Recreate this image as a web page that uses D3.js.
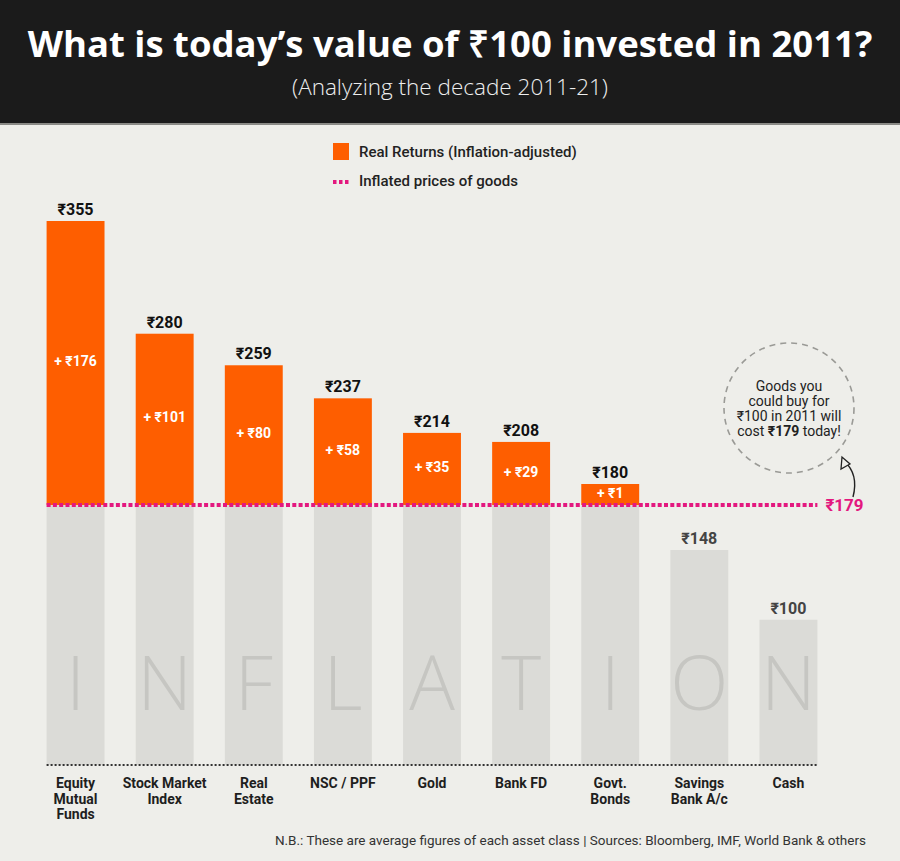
<!DOCTYPE html>
<html>
<head>
<meta charset="utf-8">
<script src="https://cdn.jsdelivr.net/npm/d3@7"></script>
<style>
  body { margin: 0; background: #eeeeea; }
  svg { display: block; font-family: Roboto, "Noto Sans", sans-serif; }
</style>
</head>
<body>
<script>
// chart values
var categories = ["Equity\nMutual\nFunds", "Stock Market\nIndex", "Real\nEstate", "NSC / PPF",
                  "Gold", "Bank FD", "Govt.\nBonds", "Savings\nBank A/c", "Cash"];
var values = [355, 280, 259, 237, 214, 208, 180, 148, 100];
var inflated = 179;
var bigLetters = ["I", "N", "F", "L", "A", "T", "I", "O", "N"];

var width = 900, height = 861;
var orange = "#fe5e00", pink = "#e3187f", grey = "#dbdbd7";

var svg = d3.select("body").append("svg")
  .attr("width", width)
  .attr("height", height);

// paper background
svg.append("rect").attr("width", width).attr("height", height).attr("fill", "#eeeeea");

// header band
svg.append("rect").attr("width", width).attr("height", 123).attr("fill", "#1b1b1b");
svg.append("rect").attr("y", 123).attr("width", width).attr("height", 2).attr("fill", "#8a8a86");

svg.append("text")
  .attr("x", width / 2).attr("y", 57)
  .attr("text-anchor", "middle")
  .style("font-family", "'Open Sans', sans-serif")
  .style("font-weight", 700).style("font-size", "36.5px")
  .attr("fill", "#fff")
  .text("What is today\u2019s value of \u20b9100 invested in 2011?");

svg.append("text")
  .attr("x", width / 2).attr("y", 95)
  .attr("text-anchor", "middle")
  .style("font-family", "'Open Sans', sans-serif")
  .style("font-weight", 300).style("font-size", "22.5px")
  .attr("fill", "#eee")
  .text("(Analyzing the decade 2011-21)");

// legend
var legend = svg.append("g");
legend.append("rect").attr("x", 333).attr("y", 143).attr("width", 16).attr("height", 17).attr("fill", orange);
legend.append("text").attr("x", 359).attr("y", 157)
  .style("font-size", "15px").style("font-weight", 500).attr("fill", "#222")
  .text("Real Returns (Inflation-adjusted)");
legend.append("line").attr("x1", 333).attr("x2", 350).attr("y1", 182).attr("y2", 182)
  .attr("stroke", pink).attr("stroke-width", 4).attr("stroke-dasharray", "3.5,2.5");
legend.append("text").attr("x", 359).attr("y", 186)
  .style("font-size", "15px").style("font-weight", 500).attr("fill", "#222")
  .text("Inflated prices of goods");

// scales: the +1 step just above the inflation line is stretched, as in the original
var x = d3.scaleBand()
  .domain(categories)
  .range([31, 833])
  .paddingInner(0.35)
  .paddingOuter(0.175);

var y = d3.scaleLinear()
  .domain([0, inflated, inflated + 1, d3.max(values)])
  .range([765, 505, 484, 221]);

var data = categories.map(function(c, i) {
  return { cat: c, value: values[i], letter: bigLetters[i] };
});

var bars = svg.append("g").selectAll("g")
  .data(data)
  .enter().append("g");

// grey part (up to the inflation line)
bars.append("rect")
  .attr("x", function(d) { return x(d.cat); })
  .attr("width", x.bandwidth())
  .attr("y", function(d) { return y(Math.min(d.value, inflated)); })
  .attr("height", function(d) { return y(0) - y(Math.min(d.value, inflated)); })
  .attr("fill", grey);

// big faint INFLATION letters
bars.append("text")
  .attr("x", function(d) { return x(d.cat) + x.bandwidth() / 2; })
  .attr("y", 710)
  .attr("text-anchor", "middle")
  .style("font-family", "'Open Sans', sans-serif")
  .style("font-weight", 300).style("font-size", "76px")
  .attr("fill", "#c6c6c2")
  .text(function(d) { return d.letter; });

// orange real-return part
var gains = bars.filter(function(d) { return d.value > inflated; });
gains.append("rect")
  .attr("x", function(d) { return x(d.cat); })
  .attr("width", x.bandwidth())
  .attr("y", function(d) { return y(d.value); })
  .attr("height", function(d) { return y(inflated) - y(d.value); })
  .attr("fill", orange);

gains.append("text")
  .attr("x", function(d) { return x(d.cat) + x.bandwidth() / 2; })
  .attr("y", function(d) { return (y(d.value) + y(inflated)) / 2 - 2; })
  .attr("dy", "0.36em")
  .attr("text-anchor", "middle")
  .style("font-size", "14px").style("font-weight", 700)
  .attr("fill", "#fff")
  .text(function(d) { return "+ \u20b9" + (d.value - inflated); });

// value labels
bars.append("text")
  .attr("x", function(d) { return x(d.cat) + x.bandwidth() / 2; })
  .attr("y", function(d) { return y(d.value) - 6; })
  .attr("text-anchor", "middle")
  .style("font-size", "16px").style("font-weight", 700)
  .attr("fill", function(d) { return d.value > inflated ? "#111" : "#444"; })
  .text(function(d) { return "\u20b9" + d.value; });

// inflation line
var xEnd = x(categories[categories.length - 1]) + x.bandwidth();
svg.append("line")
  .attr("x1", x(categories[0])).attr("x2", xEnd)
  .attr("y1", y(inflated)).attr("y2", y(inflated))
  .attr("stroke", pink).attr("stroke-width", 4).attr("stroke-dasharray", "4,2.3");
svg.append("text")
  .attr("x", xEnd + 8).attr("y", y(inflated)).attr("dy", "0.36em")
  .style("font-size", "17px").style("font-weight", 700)
  .attr("fill", pink)
  .text("\u20b9" + inflated);

// baseline
svg.append("line")
  .attr("x1", x(categories[0])).attr("x2", xEnd)
  .attr("y1", y(0)).attr("y2", y(0))
  .attr("stroke", "#333").attr("stroke-width", 1.8).attr("stroke-dasharray", "2,2");

// category labels
var labels = svg.append("g").selectAll("text")
  .data(categories)
  .enter().append("text")
  .attr("text-anchor", "middle")
  .style("font-size", "14px").style("font-weight", 700)
  .attr("fill", "#1e1e1e");
labels.selectAll("tspan")
  .data(function(d) { return d.split("\n").map(function(t) { return { cat: d, t: t }; }); })
  .enter().append("tspan")
  .attr("x", function(d) { return x(d.cat) + x.bandwidth() / 2; })
  .attr("y", function(d, i) { return 788 + i * 15.5; })
  .text(function(d) { return d.t; });

// annotation circle
var note = svg.append("g");
note.append("circle").attr("cx", 789).attr("cy", 408).attr("r", 65)
  .attr("fill", "none").attr("stroke", "#9a9a96").attr("stroke-width", 1.6)
  .attr("stroke-dasharray", "6,5");
var noteLines = ["Goods you", "could buy for", "\u20b9100 in 2011 will"];
noteLines.forEach(function(t, i) {
  note.append("text").attr("x", 789).attr("y", 391 + i * 15)
    .attr("text-anchor", "middle").style("font-size", "14px").attr("fill", "#222")
    .text(t);
});
var last = note.append("text").attr("x", 789).attr("y", 436)
  .attr("text-anchor", "middle").style("font-size", "14px").attr("fill", "#222");
last.append("tspan").text("cost ");
last.append("tspan").style("font-weight", 700).text("\u20b9" + inflated);
last.append("tspan").text(" today!");

note.append("path")
  .attr("d", "M853,497 Q859,474 844,461")
  .attr("fill", "none").attr("stroke", "#222").attr("stroke-width", 1.4);
note.append("path")
  .attr("d", "M842,457 L841,469 L850,464 Z")
  .attr("fill", "#eeeeea").attr("stroke", "#222").attr("stroke-width", 1.3);

// footnote
svg.append("text")
  .attr("x", 866).attr("y", 845)
  .attr("text-anchor", "end")
  .style("font-size", "13.5px").attr("fill", "#333")
  .text("N.B.: These are average figures of each asset class | Sources: Bloomberg, IMF, World Bank & others");
</script>
</body>
</html>
